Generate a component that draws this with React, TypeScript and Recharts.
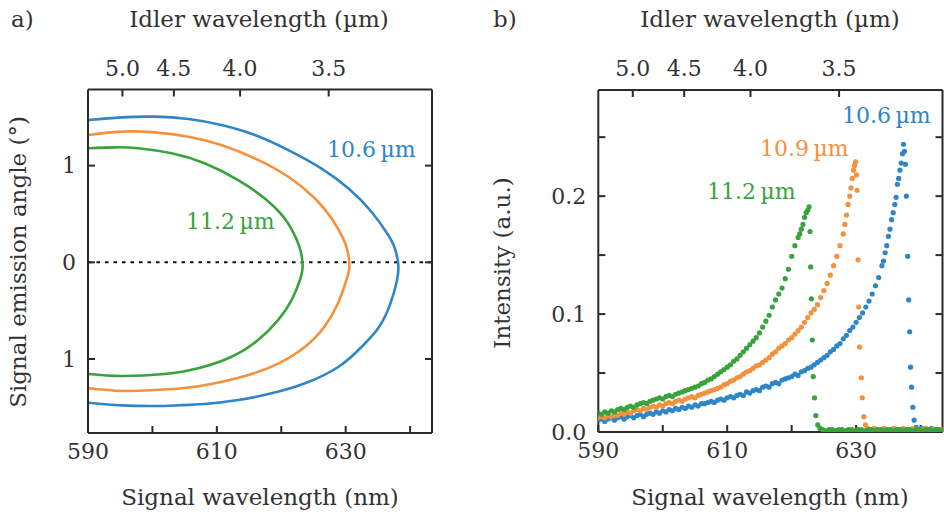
import { ComposedChart, Line, Scatter, XAxis, YAxis, ReferenceLine } from 'recharts';

const FONT = '"DejaVu Serif", serif';
const INK = '#2a2a2a';
const TEXT = '#333';
const BLUE = '#2e86c9';
const ORANGE = '#f5913e';
const GREEN = '#38a33b';

// axes
const PUMP_NM = 532;
const signalTicks = [590, 600, 610, 620, 630, 640];
const signalLabels = [590, 610, 630];
const idlerTicksUm = [5.0, 4.5, 4.0, 3.5];
const angleTicks = [-1, 0, 1];
const intensityTicks = [0, 0.05, 0.1, 0.15, 0.2, 0.25];
const intensityLabels = [0, 0.1, 0.2];

// a) emission rings: [signal nm, angle deg], upper branch then lower branch
const ring106 = [
  [590.1, 1.472], [595.2, 1.499], [600.4, 1.506], [605.6, 1.482], [610.7, 1.42], [615.9, 1.317],
  [621.1, 1.161], [626.2, 0.972], [630.4, 0.765], [634, 0.523], [636.6, 0.282], [637.67, 0.137],
  [638.17, -0.028], [637.95, -0.193], [636.95, -0.424], [635.2, -0.666], [632.5, -0.873], [628.9, -1.08],
  [623.7, -1.251], [618.5, -1.355], [613.3, -1.424], [608.1, -1.465], [604.2, -1.478], [600.4, -1.486],
  [595.2, -1.479], [590.1, -1.452],
];
const ring109 = [
  [590.1, 1.316], [595.2, 1.351], [600.4, 1.344], [605.6, 1.299], [610.7, 1.213], [615.9, 1.075],
  [621.1, 0.885], [625.2, 0.662], [627.8, 0.455], [629.6, 0.248], [630.31, 0.112], [630.59, -0.038],
  [630.12, -0.183], [628.8, -0.424], [626.7, -0.666], [623.7, -0.873], [619.6, -1.045], [614.9, -1.165],
  [609.7, -1.251], [604.6, -1.303], [597.8, -1.328], [594.2, -1.328], [590.1, -1.303],
];
const ring112 = [
  [590.1, 1.179], [594.2, 1.189], [597.8, 1.179], [603, 1.127], [608.1, 1.024], [613.3, 0.851],
  [617.4, 0.662], [620.5, 0.455], [622.3, 0.248], [623.04, 0.107], [623.32, -0.038],
  [622.9, -0.183], [621.6, -0.39], [619.5, -0.597], [616.4, -0.804], [612.3, -0.976], [607.1, -1.096],
  [601.9, -1.155], [595.2, -1.176], [590.1, -1.155],
];

// b) measured spectra: [signal nm, intensity a.u.]
const spec106 = [
  [590, .010], [590.5, .011], [591, .009], [591.5, .011], [592, .012], [592.5, .010], [593, .012], [593.5, .013],
  [594, .011], [594.5, .013], [595, .014], [595.5, .012], [596, .014], [596.5, .015], [597, .013], [597.5, .015],
  [598, .016], [598.5, .015], [599, .017], [599.5, .016], [600, .018], [600.5, .017], [601, .019], [601.5, .018],
  [602, .020], [602.5, .019], [603, .021], [603.5, .020], [604, .022], [604.5, .021], [605, .023], [605.5, .022],
  [606, .024], [606.5, .024], [607, .025], [607.5, .026], [608, .025], [608.5, .027], [609, .028], [609.5, .027],
  [610, .029], [610.5, .030], [611, .029], [611.5, .031], [612, .032], [612.5, .031], [613, .034], [613.5, .033],
  [614, .035], [614.5, .036], [615, .035], [615.5, .038], [616, .039], [616.5, .038], [617, .041], [617.5, .042],
  [618, .041], [618.5, .044], [619, .045], [619.5, .046], [620, .047], [620.5, .049], [621, .048], [621.5, .051],
  [622, .052], [622.5, .054], [623, .055], [623.5, .057], [624, .059], [624.5, .061], [625, .063], [625.5, .065],
  [626, .068], [626.5, .070], [627, .073], [627.5, .075], [628, .079], [628.5, .082], [629, .086], [629.5, .089],
  [630, .093], [630.5, .097], [631, .101], [631.5, .106], [632, .111], [632.5, .117], [633, .124], [633.5, .131],
  [634, .141], [634.25, .145], [634.5, .152], [634.75, .158], [635, .166], [635.25, .172], [635.5, .180],
  [635.75, .186], [636, .193], [636.2, .199], [636.4, .210], [636.6, .215], [636.8, .222], [637, .228],
  [637.2, .236], [637.35, .244], [637.5, .238], [637.65, .227], [637.8, .200], [638, .149], [638.15, .112],
  [638.3, .085], [638.45, .055], [638.6, .038], [638.8, .021], [639, .010], [639.3, .004], [639.7, .002],
  [640.2, .003], [640.7, .002], [641.2, .002], [641.7, .003], [642.2, .002], [642.7, .002], [643.2, .002],
];
const spec109 = [
  [590, .012], [590.5, .013], [591, .012], [591.5, .014], [592, .013], [592.5, .015], [593, .014], [593.5, .016],
  [594, .015], [594.5, .017], [595, .016], [595.5, .018], [596, .019], [596.5, .018], [597, .020], [597.5, .019],
  [598, .021], [598.5, .022], [599, .021], [599.5, .023], [600, .022], [600.5, .024], [601, .025], [601.5, .024],
  [602, .026], [602.5, .027], [603, .026], [603.5, .028], [604, .029], [604.5, .030], [605, .029], [605.5, .031],
  [606, .032], [606.5, .033], [607, .034], [607.5, .035], [608, .036], [608.5, .037], [609, .038], [609.5, .040],
  [610, .041], [610.5, .043], [611, .044], [611.5, .046], [612, .047], [612.5, .049], [613, .051], [613.5, .052],
  [614, .054], [614.5, .056], [615, .057], [615.5, .059], [616, .061], [616.5, .063], [617, .066], [617.5, .068],
  [618, .071], [618.5, .073], [619, .075], [619.5, .078], [620, .080], [620.5, .083], [621, .086], [621.5, .089],
  [622, .093], [622.5, .097], [623, .101], [623.5, .104], [624, .108], [624.5, .114], [625, .120], [625.5, .126],
  [626, .133], [626.5, .141], [627, .149], [627.5, .158], [628, .168], [628.25, .176], [628.5, .184],
  [628.75, .193], [629, .200], [629.2, .207], [629.4, .215], [629.6, .222], [629.75, .226], [629.9, .229],
  [630.05, .218], [630.15, .205], [630.3, .146], [630.4, .106], [630.55, .072], [630.8, .046], [630.95, .029],
  [631.2, .013], [631.45, .006], [631.8, .003], [632.3, .002], [632.8, .003], [633.3, .002], [633.8, .002],
  [634.3, .003], [634.8, .002], [635.3, .002], [635.8, .003], [636.3, .002], [636.8, .002], [637.3, .003],
  [637.8, .002], [638.3, .002], [638.8, .003], [639.3, .002], [639.8, .002], [640.3, .002], [640.8, .003],
  [641.3, .002], [641.8, .002], [642.3, .002], [642.8, .002], [643.3, .002],
];
const spec112 = [
  [590, .016], [590.5, .015], [591, .017], [591.5, .016], [592, .018], [592.5, .017], [593, .019], [593.5, .020],
  [594, .019], [594.5, .021], [595, .022], [595.5, .021], [596, .023], [596.5, .024], [597, .025], [597.5, .024],
  [598, .026], [598.5, .027], [599, .028], [599.5, .029], [600, .028], [600.5, .030], [601, .031], [601.5, .030],
  [602, .032], [602.5, .033], [603, .034], [603.5, .035], [604, .036], [604.5, .037], [605, .038], [605.5, .039],
  [606, .041], [606.5, .042], [607, .044], [607.5, .045], [608, .047], [608.5, .049], [609, .051], [609.5, .053],
  [610, .055], [610.5, .057], [611, .060], [611.5, .062], [612, .065], [612.5, .068], [613, .071], [613.5, .074],
  [614, .077], [614.5, .080], [615, .084], [615.5, .089], [616, .094], [616.5, .099], [617, .106], [617.5, .112],
  [618, .117], [618.5, .122], [619, .130], [619.5, .138], [620, .149], [620.5, .158], [621, .165], [621.25, .168],
  [621.5, .172], [621.75, .176], [622, .182], [622.25, .186], [622.5, .188], [622.7, .191], [622.85, .170],
  [622.95, .140], [623.05, .113], [623.2, .078], [623.35, .047], [623.55, .029], [623.75, .014], [624.05, .006],
  [624.4, .003], [624.8, .002], [625.3, .001], [625.8, .002], [626.3, .002], [626.8, .001], [627.3, .002],
  [627.8, .002], [628.3, .001], [628.8, .002], [629.3, .002], [629.8, .001], [630.3, .002], [630.8, .002],
  [631.3, .001], [631.8, .002], [632.3, .002], [632.8, .001], [633.3, .002], [633.8, .002], [634.3, .001],
  [634.8, .002], [635.3, .002], [635.8, .001], [636.3, .002], [636.8, .002], [637.3, .001], [637.8, .002],
  [638.3, .002], [638.8, .001], [639.3, .002], [639.8, .002], [640.3, .001], [640.8, .002], [641.3, .002],
  [641.8, .001], [642.3, .002], [642.8, .002], [643.3, .001],
];

const toPts = (arr: number[][]) => arr.map(([x, y]) => ({ x, y }));
const idlerToSignal = (um: number) => 1 / (1 / PUMP_NM - 1 / (um * 1000));
const signalToIdler = (nm: number) => 1 / (1 / PUMP_NM - 1 / nm) / 1000;

const X_DOMAIN: [number, number] = [590, 643.4];
const tickStyle = { fill: TEXT, fontSize: 22, fontFamily: FONT };
const axisCommon = {
  stroke: INK,
  strokeWidth: 2,
  tickSize: -7,
  allowDataOverflow: true,
  interval: 0 as const,
};

const dot = (color: string) => (p: any) => <circle cx={p.cx} cy={p.cy} r={2.6} fill={color} />;

function TopAxis() {
  return (
    <XAxis
      {...axisCommon}
      xAxisId="top"
      orientation="top"
      dataKey="x"
      type="number"
      domain={X_DOMAIN}
      ticks={idlerTicksUm.map(idlerToSignal)}
      tickFormatter={(v: number) => signalToIdler(v).toFixed(1)}
      tick={tickStyle}
      tickMargin={21}
      height={30}
    />
  );
}

function BottomAxis() {
  return (
    <XAxis
      {...axisCommon}
      xAxisId="bottom"
      dataKey="x"
      type="number"
      domain={X_DOMAIN}
      ticks={signalTicks}
      tickFormatter={(v: number) => (signalLabels.includes(v) ? String(v) : '')}
      tick={tickStyle}
      tickMargin={17}
      height={30}
    />
  );
}

function RingsPanel() {
  return (
    <ComposedChart width={472} height={519} margin={{ top: 59.5, right: 30, bottom: 56, left: 48 }}>
      <TopAxis />
      <BottomAxis />
      <YAxis
        {...axisCommon}
        yAxisId="left"
        dataKey="y"
        type="number"
        domain={[-1.765, 1.787]}
        ticks={angleTicks}
        tickFormatter={(v: number) => String(Math.abs(v))}
        tick={tickStyle}
        tickMargin={19}
        width={40}
      />
      <YAxis
        {...axisCommon}
        yAxisId="right"
        orientation="right"
        dataKey="y"
        type="number"
        domain={[-1.765, 1.787]}
        ticks={angleTicks}
        tickFormatter={() => ''}
        width={10}
      />
      <ReferenceLine xAxisId="bottom" yAxisId="left" y={0} stroke="#111" strokeWidth={2} strokeDasharray="3.5 5" />
      {/* invisible copy so the top / right axes have a series bound to them */}
      <Line xAxisId="top" yAxisId="right" data={toPts(ring106)} dataKey="y" stroke="none" dot={false} activeDot={false} isAnimationActive={false} />
      <Line xAxisId="bottom" yAxisId="left" data={toPts(ring106)} dataKey="y" type="natural" stroke={BLUE} strokeWidth={2.6} dot={false} isAnimationActive={false} />
      <Line xAxisId="bottom" yAxisId="left" data={toPts(ring109)} dataKey="y" type="natural" stroke={ORANGE} strokeWidth={2.6} dot={false} isAnimationActive={false} />
      <Line xAxisId="bottom" yAxisId="left" data={toPts(ring112)} dataKey="y" type="natural" stroke={GREEN} strokeWidth={2.6} dot={false} isAnimationActive={false} />
    </ComposedChart>
  );
}

function SpectraPanel() {
  return (
    <ComposedChart width={472} height={519} margin={{ top: 60, right: 0.5, bottom: 57, left: 86.3 }}>
      <TopAxis />
      <BottomAxis />
      <YAxis
        {...axisCommon}
        yAxisId="left"
        dataKey="y"
        type="number"
        domain={[0, 0.29]}
        ticks={intensityTicks}
        tickFormatter={(v: number) => (intensityLabels.includes(v) ? v.toFixed(1) : '')}
        tick={tickStyle}
        tickMargin={19}
        width={40}
      />
      <YAxis
        {...axisCommon}
        yAxisId="right"
        orientation="right"
        dataKey="y"
        type="number"
        domain={[0, 0.29]}
        ticks={intensityTicks}
        tickFormatter={() => ''}
        width={1}
      />
      <Scatter xAxisId="top" yAxisId="right" data={toPts(spec106)} dataKey="y" shape={() => <g />} isAnimationActive={false} />
      <Scatter xAxisId="bottom" yAxisId="left" data={toPts(spec106)} dataKey="y" shape={dot(BLUE)} isAnimationActive={false} />
      <Scatter xAxisId="bottom" yAxisId="left" data={toPts(spec109)} dataKey="y" shape={dot(ORANGE)} isAnimationActive={false} />
      <Scatter xAxisId="bottom" yAxisId="left" data={toPts(spec112)} dataKey="y" shape={dot(GREEN)} isAnimationActive={false} />
    </ComposedChart>
  );
}

export default function App() {
  const title = { fontFamily: FONT, fontSize: 23, fill: TEXT };
  const note = { fontFamily: FONT, fontSize: 22 };
  return (
    <div style={{ position: 'absolute', left: 0, top: 0, width: 944, height: 519, background: '#fff' }}>
      <div style={{ position: 'absolute', left: 0, top: 0 }}>
        <RingsPanel />
      </div>
      <div style={{ position: 'absolute', left: 472, top: 0 }}>
        <SpectraPanel />
      </div>
      <svg width={944} height={519} style={{ position: 'absolute', left: 0, top: 0, pointerEvents: 'none' }}>
        <text x={11} y={27} {...title}>a)</text>
        <text x={259} y={27} textAnchor="middle" {...title}>Idler wavelength (µm)</text>
        <text x={260} y={505} textAnchor="middle" {...title}>Signal wavelength (nm)</text>
        <text x={26} y={262} textAnchor="middle" transform="rotate(-90 26 262)" {...title}>Signal emission angle (°)</text>
        <text x={327} y={157} fill={BLUE} {...note}>10.6{'\u2009'}µm</text>
        <text x={186} y={229} fill={GREEN} {...note}>11.2{'\u2009'}µm</text>

        <text x={493} y={27} {...title}>b)</text>
        <text x={770} y={27} textAnchor="middle" {...title}>Idler wavelength (µm)</text>
        <text x={770} y={505} textAnchor="middle" {...title}>Signal wavelength (nm)</text>
        <text x={510} y={263} textAnchor="middle" transform="rotate(-90 510 263)" {...title}>Intensity (a.u.)</text>
        <text x={842} y={123} fill={BLUE} {...note}>10.6{'\u2009'}µm</text>
        <text x={760} y={156} fill={ORANGE} {...note}>10.9{'\u2009'}µm</text>
        <text x={707} y={199} fill={GREEN} {...note}>11.2{'\u2009'}µm</text>
      </svg>
    </div>
  );
}
